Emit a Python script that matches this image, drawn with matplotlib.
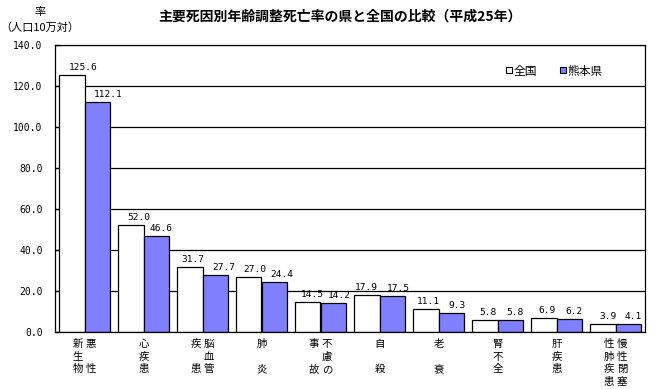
import matplotlib
matplotlib.use("Agg")
import matplotlib.pyplot as plt
from matplotlib.lines import Line2D
import numpy as np

plt.rcParams['font.family'] = ['Noto Sans CJK JP', 'DejaVu Sans']

categories = ["悪性新生物", "心疾患", "脳血管疾患", "肺炎", "不慮の事故",
              "自殺", "老衰", "腎不全", "肝疾患", "慢性閉塞性肺疾患"]
# vertical label columns, read right-to-left
label_columns = [["悪性", "新生物"], ["心疾患"], ["脳血管", "疾患"], ["肺炎"],
                 ["不慮の", "事故"], ["自殺"], ["老衰"], ["腎不全"], ["肝疾患"],
                 ["慢性閉塞", "性肺疾患"]]
national = [125.6, 52.0, 31.7, 27.0, 14.5, 17.9, 11.1, 5.8, 6.9, 3.9]
kumamoto = [112.1, 46.6, 27.7, 24.4, 14.2, 17.5, 9.3, 5.8, 6.2, 4.1]
series_names = ["全国", "熊本県"]
yticks = [0, 20, 40, 60, 80, 100, 120, 140]

# horizontal nudges (pixels) of the value labels, as placed in the original
dx_national = [11, 8, 3, 6, 5, 0, 3, 3, 3, 5]
dx_kumamoto = [11, 5, 9, 8, 6, 6, 6, 5, 5, 5]

W, H = 666, 389
fig = plt.figure(figsize=(W / 100, H / 100), dpi=100)
ax = fig.add_axes([55 / W, (H - 332) / H, 590 / W, 287 / H])

num_font = ["DejaVu Sans Mono"]
blue = "#8080FF"
x = np.arange(len(categories))
bw = 0.432
ax.bar(x - bw / 2, national, width=bw, color="white", edgecolor="black", linewidth=0.9, zorder=2)
ax.bar(x + bw / 2, kumamoto, width=bw, color=blue, edgecolor="black", linewidth=0.9, zorder=2)

for i in range(len(categories)):
    ax.annotate(f"{national[i]:.1f}", xy=(x[i] - bw / 2, national[i]),
                xytext=(dx_national[i], 3), textcoords="offset pixels",
                ha="center", va="bottom", fontsize=6.8, family=num_font)
    ax.annotate(f"{kumamoto[i]:.1f}", xy=(x[i] + bw / 2, kumamoto[i]),
                xytext=(dx_kumamoto[i], 3), textcoords="offset pixels",
                ha="center", va="bottom", fontsize=6.8, family=num_font)

# vertical category labels
col_gap = 13
row_gap = 12.6
for i, cols in enumerate(label_columns):
    nrows = max(3, max(len(c) for c in cols))
    ncols = len(cols)
    for j, col in enumerate(cols):
        # right-to-left columns
        dx = ((ncols - 1) / 2 - j) * col_gap
        n = len(col)
        for k, ch in enumerate(col):
            r = 0 if n == 1 else k * (nrows - 1) / (n - 1)
            ax.annotate(ch, xy=(x[i], 0), xycoords=("data", "axes fraction"),
                        xytext=(dx, -12 - r * row_gap), textcoords="offset pixels",
                        ha="center", va="center", fontsize=7.5, annotation_clip=False)

ax.set_xlim(-0.5, len(categories) - 0.5)
ax.set_ylim(0, 140)
ax.set_yticks(yticks)
ax.set_yticklabels([f"{v:.1f}" for v in yticks], fontsize=7, family=num_font)
ax.set_xticks([])
ax.tick_params(axis="y", direction="in", length=3, width=0.9, pad=9)
ax.yaxis.grid(True, color="black", linewidth=0.9)
ax.set_axisbelow(True)
for s in ax.spines.values():
    s.set_linewidth(0.9)
    s.set_color("black")

handles = [Line2D([], [], linestyle="none", marker="s", markersize=5,
                  markerfacecolor="white", markeredgecolor="black", markeredgewidth=0.8),
           Line2D([], [], linestyle="none", marker="s", markersize=5,
                  markerfacecolor=blue, markeredgecolor="black", markeredgewidth=0.8)]
ax.legend(handles, series_names, loc="center left", bbox_to_anchor=(0.765, 0.909),
          ncol=2, frameon=False, fontsize=8.5, handlelength=0.5, handletextpad=0.1,
          columnspacing=2.0, borderpad=0, borderaxespad=0)

fig.text(340 / W, 1 - 17 / H, "主要死因別年齢調整死亡率の県と全国の比較（平成25年）",
         ha="center", va="center", fontsize=10, fontweight="bold")
fig.text(40 / W, 1 - 12 / H, "率", ha="center", va="center", fontsize=8)
fig.text(40 / W, 1 - 28 / H, "（人口10万対）", ha="center", va="center", fontsize=8)

fig.savefig("out.png", dpi=100)
